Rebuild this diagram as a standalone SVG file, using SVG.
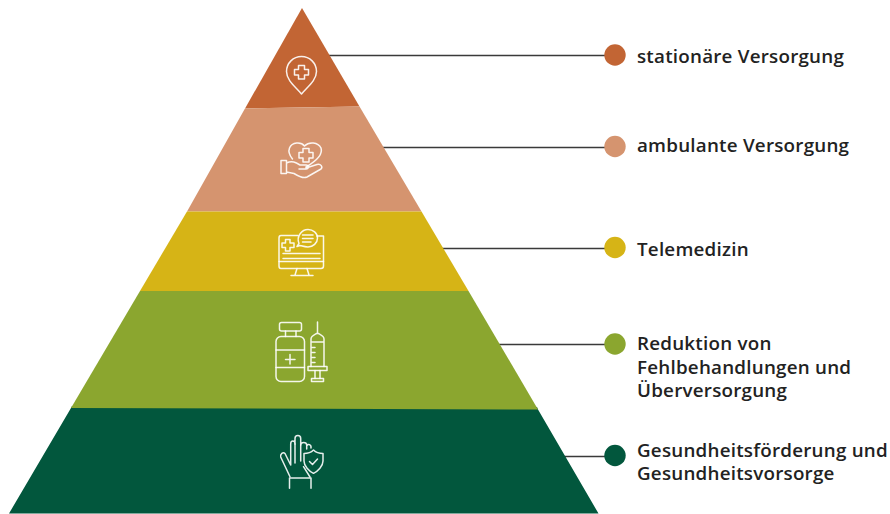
<svg xmlns="http://www.w3.org/2000/svg" width="890" height="514" viewBox="0 0 890 514">
<style>
.i{fill:none;stroke:#fff;stroke-width:1.5;stroke-linejoin:round;stroke-linecap:round;opacity:.9}
.c{stroke:#3a3a3a;stroke-width:1.3;fill:none}
text{font-family:"Open Sans","Noto Sans",sans-serif;font-weight:600;font-size:18.8px;letter-spacing:.23px;fill:#222}
</style>
<rect width="890" height="514" fill="#fff"/>
<g id="connectors">
<path class="c" d="M329 55.500H610"/><path class="c" d="M382 147.500H610"/><path class="c" d="M442 248.500H610"/><path class="c" d="M499 344.500H610"/><path class="c" d="M564 456.500H610"/>
</g>
<g id="level-1">
<path fill="#c26534" d="M302 8L359.500 106.500L245 108.500Z"/>
<path class="i" d="M301.500 94C297 88 286.500 81 286.500 71.500A15 15 0 0 1 316.500 71.500C316.500 81 306 88 301.500 94Z"/>
<path class="i" d="M298.500 65.500H304.500V69.500H308.500V75H304.500V79H298.500V75H294.500V69.500H298.500Z"/>
<circle cx="615" cy="55" r="10.700" fill="#c26534"/>
<text x="637" y="63">stationäre Versorgung</text>
</g>
<g id="level-2">
<path fill="#d5946f" d="M245 108.500L359.500 106.500L421.500 211.500L187 211.500Z"/>
<path class="i" d="M304.500 146C301 141.500 292 142 289.500 148C288 152 290 156 292.500 159M304.500 146C309 141.500 318 142 321 148C323 154 318 160 306 167"/>
<path class="i" d="M303 148.500H309V152.500H313V158H309V162H303V158H299V152.500H303Z"/>
<path class="i" d="M281 160.500H286.500V173.500H281ZM286.500 163C292 160 296 162.500 300 165H306C309 165 309 169 306 169H299M306 168L317 164.500C321 163.500 323 167 321 169L307 177C303 179 298 176 294 173.500L286.500 172"/>
<circle cx="615" cy="146.500" r="10.700" fill="#d5946f"/>
<text x="637" y="151.500">ambulante Versorgung</text>
</g>
<g id="level-3">
<path fill="#d6b416" d="M187 211.500L421.500 211.500L468.500 291L140 291Z"/>
<path class="i" d="M298 235.500H281C279.500 235.500 279 236.500 279 238V266C279 267.500 280 268.500 281 268.500H321C322.500 268.500 323.500 267.500 323.500 266V236H317"/>
<path class="i" d="M279 261.500H323.500M283 253.500H320M283 258.500H320M297 268.500L295 275M307 268.500L309 275M291 275.500H313"/>
<path class="i" d="M299 243.500C296 236 302 229.500 308 229.500C313 229.500 317.500 233 317.500 238C317.500 243 313 247 308 247C305 247 302 246 300 245.500L297 246.500Z"/>
<path class="i" d="M302.500 235H313M302.500 238.500H313M302.500 242H311"/>
<path class="i" d="M285.500 239.500H290V243H294V247.500H290V251H285.500V247.500H282V243H285.500Z"/>
<circle cx="615" cy="247.500" r="10.700" fill="#d6b416"/>
<text x="637" y="255.500">Telemedizin</text>
</g>
<g id="level-5">
<path fill="#02573d" d="M72 406L537 407L538 409.500L598.500 513.500L9 513.500L71 408Z"/>
<path class="i" d="M290 476.700L280.700 457C280 454 283 451.500 285 453.500L290.700 465V444C290.700 440 295 440 295 444V438.500C295 434.500 300.700 434.500 300.700 438.500V445C301 441.500 306.500 441.500 306.700 445V449M306.700 446C308 443 311.500 444.500 311 448"/>
<path class="i" d="M295 444V463M300.700 445V461M303.500 466.700L310 477"/>
<path class="i" d="M313.500 450C316 452.500 320 453.500 323 453.500V461C323 466 318 471 313.500 473.300C309 471 304 466 304 461V453.500C307.500 453.500 311 452.500 313.500 450Z"/>
<path class="i" d="M309.500 461.500L312.500 464.500L317.500 459"/>
<path class="i" d="M289.500 488.300V478H311V488.300"/>
<circle cx="615" cy="455.500" r="10.700" fill="#02573d"/>
<text x="637" y="456.500">Gesundheitsförderung und</text>
<text x="637" y="480">Gesundheitsvorsorge</text>
</g>
<g id="level-4">
<path fill="#8ba62f" d="M140 291L468.500 291L538 409.500L71 408Z"/>
<rect class="i" x="279.500" y="322.500" width="22" height="8.500" rx="2"/>
<path class="i" d="M285.500 331V336.500M296 331V336.500"/>
<rect class="i" x="276" y="336.500" width="28.500" height="45" rx="5"/>
<path class="i" d="M276 350H304.500M276 367.500H304.500M290 354.500V364M285.500 359.500H295"/>
<path class="i" d="M317.500 322V333M311 366.500V339C311 336 314 335 317.500 333C321 335 324 336 324 339V366.500M311 342H324M311 347.500H315M311 352.500H315M311 357.500H315M311 362.500H315"/>
<rect class="i" x="308" y="366.500" width="19" height="4"/>
<path class="i" d="M315 370.500V378.500M320 370.500V378.500"/>
<rect class="i" x="311.500" y="378.500" width="12" height="3"/>
<circle cx="615" cy="344" r="10.700" fill="#8ba62f"/>
<text x="637" y="349.500">Reduktion von</text>
<text x="637" y="373.500">Fehlbehandlungen und</text>
<text x="637" y="397">Überversorgung</text>
</g>
</svg>
